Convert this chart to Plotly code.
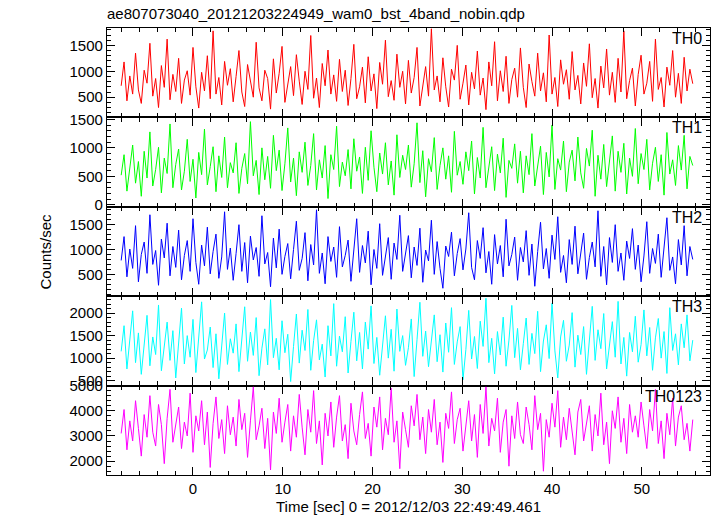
import plotly.graph_objects as go
from plotly.subplots import make_subplots

# Time grid (bin start and width, seconds relative to 2012/12/03 22:49:49.461)
t_start = -8.0
t_bin = 0.32

th0 = [720, 1180, 430, 910, 560, 1350, 640, 380, 1020, 770, 1540, 520, 860, 300, 1110, 690, 1620, 450, 940, 610,
       1250, 380, 830, 1010, 540, 1460, 700, 290, 980, 620, 1300, 470, 1780, 560, 880, 350, 1190, 730, 1050, 410,
       900, 1400, 600, 320, 1130, 790, 500, 1560, 680, 430, 1020, 860, 270, 1240, 580, 960, 1480, 400, 740, 1090,
       530, 1320, 810, 360, 1000, 650, 1690, 480, 870, 300, 1150, 720, 1410, 560, 930, 420, 1230, 610, 1020, 340,
       860, 1520, 470, 700, 1080, 390, 1280, 620, 950, 280, 1170, 750, 1600, 510, 820, 440, 1330, 690, 1000, 370,
       1210, 580, 880, 1460, 330, 760, 1090, 520, 1820, 640, 910, 410, 1260, 700, 310, 1040, 830, 1500, 460, 770,
       1120, 350, 980, 660, 1390, 540, 870, 260, 1180, 720, 1570, 430, 1010, 610, 1290, 380, 840, 1060, 500, 1450,
       690, 300, 1140, 800, 520, 1350, 620, 970, 410, 1700, 560, 880, 320, 1220, 750, 1030, 460, 1380, 640, 920,
       370, 1160, 710, 1530, 490, 860, 290, 1100, 680, 1430, 540, 980, 400, 1250, 600, 1780, 470, 820, 1060, 330,
       940, 1310, 560, 770, 1190, 420, 1620, 650, 880, 310, 1080, 730, 1400, 500, 960, 380, 1270, 620, 1040, 760]

th1 = [520, 880, 240, 690, 1050, 380, 760, 150, 940, 470, 1280, 330, 620, 1010, 210, 820, 550, 1420, 300, 710,
       980, 260, 590, 1150, 410, 800, 120, 920, 530, 1330, 350, 670, 1020, 230, 860, 480, 1190, 300, 740, 560,
       1090, 200, 640, 900, 370, 1460, 510, 780, 180, 1000, 440, 850, 290, 1220, 600, 960, 250, 720, 1350, 400,
       820, 160, 930, 570, 1100, 340, 690, 1250, 260, 790, 470, 1040, 110, 880, 620, 1380, 320, 750, 510, 970,
       280, 1160, 590, 840, 200, 1010, 430, 1300, 660, 230, 910, 540, 1090, 350, 770, 170, 1230, 480, 870, 620,
       1050, 310, 720, 1440, 390, 950, 140, 810, 580, 1180, 270, 690, 1000, 450, 860, 220, 1290, 520, 760, 360,
       930, 600, 1120, 190, 830, 470, 1360, 300, 710, 1020, 250, 890, 560, 1170, 130, 780, 640, 1070, 380, 940,
       210, 860, 530, 1250, 330, 700, 1030, 180, 920, 490, 1400, 270, 810, 610, 1120, 230, 750, 960, 420, 1190,
       560, 290, 990, 680, 1310, 150, 870, 450, 1060, 320, 760, 1210, 240, 940, 570, 1080, 190, 820, 500, 1340,
       370, 900, 620, 1150, 260, 730, 1010, 410, 880, 170, 1270, 540, 790, 340, 1040, 610, 1220, 280, 850, 690]

th2 = [780, 1260, 450, 1010, 620, 1480, 350, 900, 1150, 520, 1700, 700, 980, 280, 1210, 830, 1530, 470, 1060, 640,
       1390, 390, 880, 1180, 560, 1620, 740, 300, 1090, 670, 1450, 510, 960, 1310, 420, 850, 1760, 600, 1030, 380,
       920, 1500, 560, 1140, 330, 1270, 790, 1040, 460, 1680, 710, 940, 250, 1230, 630, 1410, 500, 860, 1120, 410,
       1000, 1570, 580, 820, 1340, 370, 1100, 690, 1800, 520, 930, 310, 1260, 760, 1050, 440, 1460, 650, 880, 1190,
       360, 970, 1620, 540, 1080, 730, 1370, 290, 1000, 620, 1520, 480, 870, 1240, 400, 1130, 800, 1690, 560, 940,
       1280, 430, 1050, 680, 1430, 340, 990, 770, 1590, 500, 1160, 620, 220, 1070, 860, 1350, 470, 920, 1220, 590,
       1010, 1740, 640, 390, 1180, 820, 1440, 530, 960, 300, 1300, 710, 1080, 450, 1610, 670, 900, 1250, 380, 1040,
       750, 1380, 480, 1110, 260, 960, 1550, 610, 1020, 420, 1290, 800, 1660, 540, 880, 330, 1200, 700, 1470, 510,
       970, 1330, 400, 840, 1150, 650, 1780, 460, 1060, 290, 1240, 740, 1500, 560, 930, 380, 1170, 820, 1420, 600,
       1090, 350, 870, 1560, 520, 1020, 720, 1310, 440, 990, 1640, 580, 850, 310, 1200, 690, 1480, 470, 1060, 800]

th3 = [1150, 1720, 760, 1380, 2050, 900, 1560, 640, 1240, 1950, 830, 1470, 1080, 2180, 720, 1330, 1800, 950, 1610, 560,
       1290, 2110, 870, 1500, 1020, 1860, 680, 1400, 2250, 980, 1180, 1690, 790, 1540, 540, 1270, 2000, 860, 1430, 1110,
       1760, 700, 1350, 2140, 930, 1580, 1060, 1900, 610, 1220, 1650, 850, 2300, 1010, 1440, 740, 1830, 1120, 1530, 480,
       1260, 1980, 890, 1620, 1170, 2080, 730, 1390, 1850, 960, 1310, 580, 1720, 1050, 2210, 820, 1490, 1140, 1920, 670,
       1370, 2020, 940, 1570, 760, 1800, 1200, 2160, 880, 1460, 620, 1280, 1940, 1000, 1640, 710, 2090, 1150, 1500, 840,
       1230, 1870, 590, 1410, 2240, 1040, 1600, 810, 1330, 1960, 920, 1520, 690, 1780, 1130, 2120, 860, 1360, 1700, 520,
       1190, 2060, 980, 1480, 770, 1820, 1260, 2330, 900, 1440, 650, 1590, 1070, 1910, 820, 1400, 2170, 1010, 1660, 740,
       1320, 1890, 860, 1550, 1100, 2040, 700, 1380, 1740, 990, 2220, 1160, 560, 1470, 1840, 930, 1290, 2010, 800, 1510,
       1080, 1700, 640, 1420, 2150, 950, 1630, 1210, 1990, 760, 1350, 1810, 1020, 2260, 870, 1460, 600, 1570, 1140, 1930,
       910, 1300, 2070, 1050, 1680, 730, 1450, 1880, 1000, 1590, 660, 2120, 1170, 1540, 850, 1760, 1230, 1960, 940, 1400]

th0123 = [3100, 4050, 2450, 3600, 2800, 4400, 3300, 2200, 3850, 2950, 4600, 3150, 2600, 4250, 3450, 1900, 3700, 4850, 2750, 3400,
          4150, 2500, 3550, 3000, 4700, 2350, 3800, 3200, 4400, 2650, 3950, 1750, 3500, 4550, 2900, 3650, 2300, 4200, 3050, 3750,
          2600, 4450, 3250, 3900, 2150, 3600, 4950, 2850, 3400, 4100, 2500, 3700, 1650, 3950, 3100, 4500, 2750, 3550, 4250, 2400,
          3800, 2950, 4650, 3350, 2250, 4050, 3150, 4800, 2700, 3600, 1850, 3900, 3000, 4350, 2550, 3750, 4600, 2800, 3450, 2100,
          4300, 3200, 2650, 3850, 4750, 2900, 3500, 2200, 4150, 3350, 4550, 2450, 3700, 3050, 4900, 2750, 3600, 1700, 3950, 3250,
          2550, 4200, 3400, 4650, 2850, 3750, 2300, 4050, 3150, 4450, 2650, 3550, 1950, 3900, 3300, 4750, 2700, 3650, 4100, 2400,
          3500, 4400, 2800, 3850, 2150, 4250, 3100, 4950, 2600, 3700, 3200, 4500, 2350, 3550, 4050, 1800, 3800, 2900, 4350, 3050,
          2700, 4150, 3450, 2450, 4600, 3250, 3900, 1600, 3650, 2950, 4300, 3350, 4800, 2550, 3750, 2850, 4100, 3150, 2250, 3950,
          4450, 2800, 3600, 4200, 2400, 3850, 3000, 4700, 2650, 3550, 1900, 4000, 3300, 4550, 2750, 3700, 2300, 4250, 3150, 3800,
          2950, 4350, 3400, 2500, 4050, 3200, 4850, 2700, 3600, 2100, 3900, 3050, 4500, 2600, 3750, 4200, 2850, 3500, 2400, 3650]

names = ["TH0", "TH1", "TH2", "TH3", "TH0123"]
series = [th0, th1, th2, th3, th0123]
colors = ["#ff0000", "#00ff00", "#0000ff", "#00ffff", "#ff00ff"]
y_ranges = [[110, 1835], [-35, 1535], [60, 1860], [390, 2375], [1450, 5000]]
y_dticks = [500, 500, 500, 500, 1000]
x_ticks = [0, 10, 20, 30, 40, 50]

title_text = "ae807073040_20121203224949_wam0_bst_4band_nobin.qdp"
x_title = "Time [sec] 0 = 2012/12/03 22:49:49.461"
y_title = "Counts/sec"

time = [t_start + t_bin * i for i in range(len(th0))]

fig = make_subplots(rows=5, cols=1, shared_xaxes=True, vertical_spacing=0)
FONT = "Liberation Sans, Arial, sans-serif"

for i, (nm, ys, col) in enumerate(zip(names, series, colors)):
    r = i + 1
    fig.add_trace(go.Scatter(x=time, y=ys, mode="lines", line=dict(color=col, width=1),
                             name=nm, showlegend=False), row=r, col=1)
    fig.update_yaxes(range=y_ranges[i], dtick=y_dticks[i], tick0=0, automargin=False,
                     ticks="inside", ticklen=8, tickwidth=1, tickcolor="black",
                     minor=dict(dtick=y_dticks[i] / 5, tick0=0, ticks="inside", ticklen=4,
                                tickcolor="black", showgrid=False),
                     showline=True, linecolor="black", linewidth=1.3, mirror="allticks",
                     showgrid=False, zeroline=False,
                     tickfont=dict(family=FONT, size=15, color="black"),
                     row=r, col=1)
    fig.update_xaxes(range=[-9.58, 57.6], tickvals=x_ticks, automargin=False,
                     ticks="inside", ticklen=8, tickwidth=1, tickcolor="black",
                     minor=dict(dtick=2, tick0=0, ticks="inside", ticklen=4,
                                tickcolor="black", showgrid=False),
                     showline=True, linecolor="black", linewidth=1.3, mirror="allticks",
                     showgrid=False, zeroline=False,
                     showticklabels=(r == 5),
                     tickfont=dict(family=FONT, size=15, color="black"),
                     row=r, col=1)
    yref = "y domain" if r == 1 else f"y{r} domain"
    xref = "x domain" if r == 1 else f"x{r} domain"
    fig.add_annotation(text=nm, xref=xref, yref=yref, x=0.99, y=1.0,
                       xanchor="right", yanchor="top", showarrow=False,
                       font=dict(family=FONT, size=16, color="black"))

fig.add_annotation(text=x_title, xref="paper", yref="paper", x=0.5, y=-31 / 447,
                   showarrow=False, xanchor="center", yanchor="middle",
                   font=dict(family=FONT, size=15, color="black"))

fig.add_annotation(text=y_title, xref="paper", yref="paper", x=-62 / 603, y=0.5,
                   textangle=-90, showarrow=False, xanchor="center", yanchor="middle",
                   font=dict(family=FONT, size=15, color="black"))

fig.update_layout(
    width=717, height=516,
    margin=dict(l=107, r=7, t=28, b=41),
    paper_bgcolor="white", plot_bgcolor="white",
    title=dict(text=title_text, x=107 / 717, xanchor="left", y=1 - 14 / 516, yanchor="middle",
               font=dict(family=FONT, size=15, color="black")),
)

fig.write_html("out.html", config={"displayModeBar": False},
               post_script="document.body.style.margin='0px';")
